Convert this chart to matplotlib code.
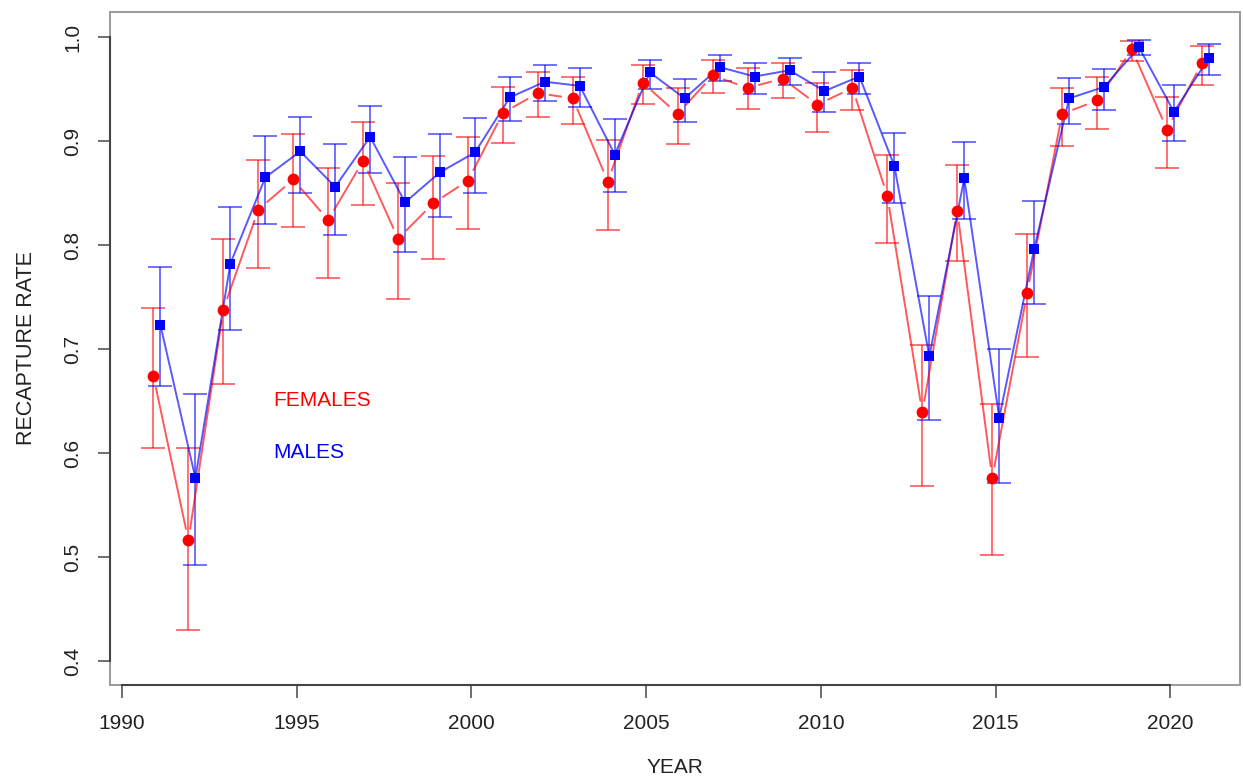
import matplotlib
matplotlib.use("Agg")
import matplotlib.pyplot as plt
from matplotlib.patches import Rectangle
import numpy as np

plt.rcParams["font.family"] = ["Liberation Sans", "DejaVu Sans"]

years = list(range(1991, 2022))

fem_rate = [0.674, 0.516, 0.738, 0.834, 0.863, 0.824, 0.881, 0.806, 0.840, 0.862,
            0.927, 0.946, 0.941, 0.861, 0.956, 0.926, 0.963, 0.951, 0.960, 0.935,
            0.951, 0.847, 0.639, 0.833, 0.576, 0.754, 0.926, 0.939, 0.988, 0.911,
            0.975]
fem_upper = [0.739, 0.605, 0.806, 0.882, 0.907, 0.874, 0.918, 0.860, 0.886, 0.904,
             0.952, 0.966, 0.962, 0.901, 0.973, 0.951, 0.978, 0.970, 0.975, 0.956,
             0.968, 0.887, 0.704, 0.877, 0.647, 0.811, 0.951, 0.962, 0.996, 0.942,
             0.991]
fem_lower = [0.605, 0.430, 0.666, 0.778, 0.817, 0.768, 0.838, 0.748, 0.787, 0.815,
             0.898, 0.923, 0.916, 0.814, 0.936, 0.897, 0.946, 0.931, 0.941, 0.909,
             0.930, 0.802, 0.568, 0.785, 0.502, 0.692, 0.895, 0.912, 0.977, 0.874,
             0.954]

male_rate = [0.723, 0.576, 0.782, 0.865, 0.890, 0.856, 0.904, 0.841, 0.870, 0.889,
             0.942, 0.957, 0.953, 0.887, 0.966, 0.941, 0.971, 0.962, 0.968, 0.948,
             0.962, 0.876, 0.693, 0.864, 0.634, 0.796, 0.941, 0.952, 0.990, 0.928,
             0.980]
male_upper = [0.779, 0.657, 0.837, 0.905, 0.923, 0.897, 0.934, 0.885, 0.907, 0.922,
              0.962, 0.973, 0.970, 0.921, 0.978, 0.960, 0.983, 0.975, 0.980, 0.966,
              0.975, 0.908, 0.751, 0.899, 0.700, 0.842, 0.961, 0.969, 0.997, 0.954,
              0.993]
male_lower = [0.664, 0.492, 0.718, 0.820, 0.850, 0.810, 0.869, 0.793, 0.827, 0.850,
              0.919, 0.938, 0.933, 0.851, 0.950, 0.918, 0.958, 0.945, 0.954, 0.928,
              0.945, 0.840, 0.632, 0.825, 0.571, 0.743, 0.916, 0.930, 0.983, 0.900,
              0.963]

xticks = [1990, 1995, 2000, 2005, 2010, 2015, 2020]
yticks = [0.4, 0.5, 0.6, 0.7, 0.8, 0.9, 1.0]
ytick_labels = ["0.4", "0.5", "0.6", "0.7", "0.8", "0.9", "1.0"]

RED = "#ff0000"
BLUE = "#0000ff"
AXC = "#555555"

fig = plt.figure(figsize=(12.43, 7.81), dpi=100)
ax = fig.add_axes([0.0885, 0.1229, 0.9091, 0.8617])

xf = np.array(years) - 0.1
xm = np.array(years) + 0.1
fr = np.array(fem_rate)
mr = np.array(male_rate)

ax.set_xlim(1989.657, 2021.99)
ax.set_ylim(0.377, 1.024)

# error bars
ax.errorbar(xf, fr, yerr=[fr - np.array(fem_lower), np.array(fem_upper) - fr],
            fmt="none", ecolor=RED, elinewidth=1.3, capsize=8.5, capthick=1.3,
            alpha=0.6, zorder=2)
ax.errorbar(xm, mr, yerr=[mr - np.array(male_lower), np.array(male_upper) - mr],
            fmt="none", ecolor=BLUE, elinewidth=1.3, capsize=8.5, capthick=1.3,
            alpha=0.6, zorder=2)

# females: R type="b" style, line broken around each point
fig.canvas.draw()
gap = 12.0
pts = ax.transData.transform(np.column_stack([xf, fr]))
inv = ax.transData.inverted()
for p0, p1 in zip(pts[:-1], pts[1:]):
    d = p1 - p0
    L = np.hypot(*d)
    if L <= 2 * gap:
        continue
    u = d / L
    a = inv.transform(p0 + u * gap)
    b = inv.transform(p1 - u * gap)
    ax.plot([a[0], b[0]], [a[1], b[1]], color=RED, lw=1.4, alpha=0.65, zorder=3)

# males: continuous line
ax.plot(xm, mr, color=BLUE, lw=1.4, alpha=0.65, zorder=3)

ax.plot(xf, fr, "o", color=RED, markersize=8.5, markeredgewidth=0, zorder=4)
ax.plot(xm, mr, "s", color=BLUE, markersize=7.5, markeredgewidth=0, zorder=4)

ax.text(1994.32, 0.651, "FEMALES", color=RED, fontsize=15, va="center", ha="left")
ax.text(1994.32, 0.601, "MALES", color=BLUE, fontsize=15, va="center", ha="left")

ax.set_xticks(xticks)
ax.set_yticks(yticks)
ax.set_yticklabels(ytick_labels, rotation=90, va="center")
ax.tick_params(axis="both", direction="out", length=9, width=1.2,
               labelsize=15, color=AXC, labelcolor="#222222")
ax.tick_params(axis="x", pad=12)
ax.tick_params(axis="y", pad=11)

# R-style: light box around plot region, darker axis lines between end ticks
ax.add_patch(Rectangle((0, 0), 1, 1, transform=ax.transAxes, fill=False,
                       edgecolor="#9a9a9a", lw=1.4, zorder=1, clip_on=False))
for side in ["top", "right"]:
    ax.spines[side].set_visible(False)
ax.spines["bottom"].set_bounds(xticks[0], xticks[-1])
ax.spines["left"].set_bounds(yticks[0], yticks[-1])
for side in ["left", "bottom"]:
    ax.spines[side].set_color("#444444")
    ax.spines[side].set_linewidth(1.5)

ax.set_xlabel("YEAR", fontsize=15, color="#222222")
ax.set_ylabel("RECAPTURE RATE", fontsize=15.5, color="#222222")
ax.xaxis.set_label_coords(0.5, -0.108)
ax.yaxis.set_label_coords(-0.065, 0.5)

fig.savefig("out.png", dpi=100)
